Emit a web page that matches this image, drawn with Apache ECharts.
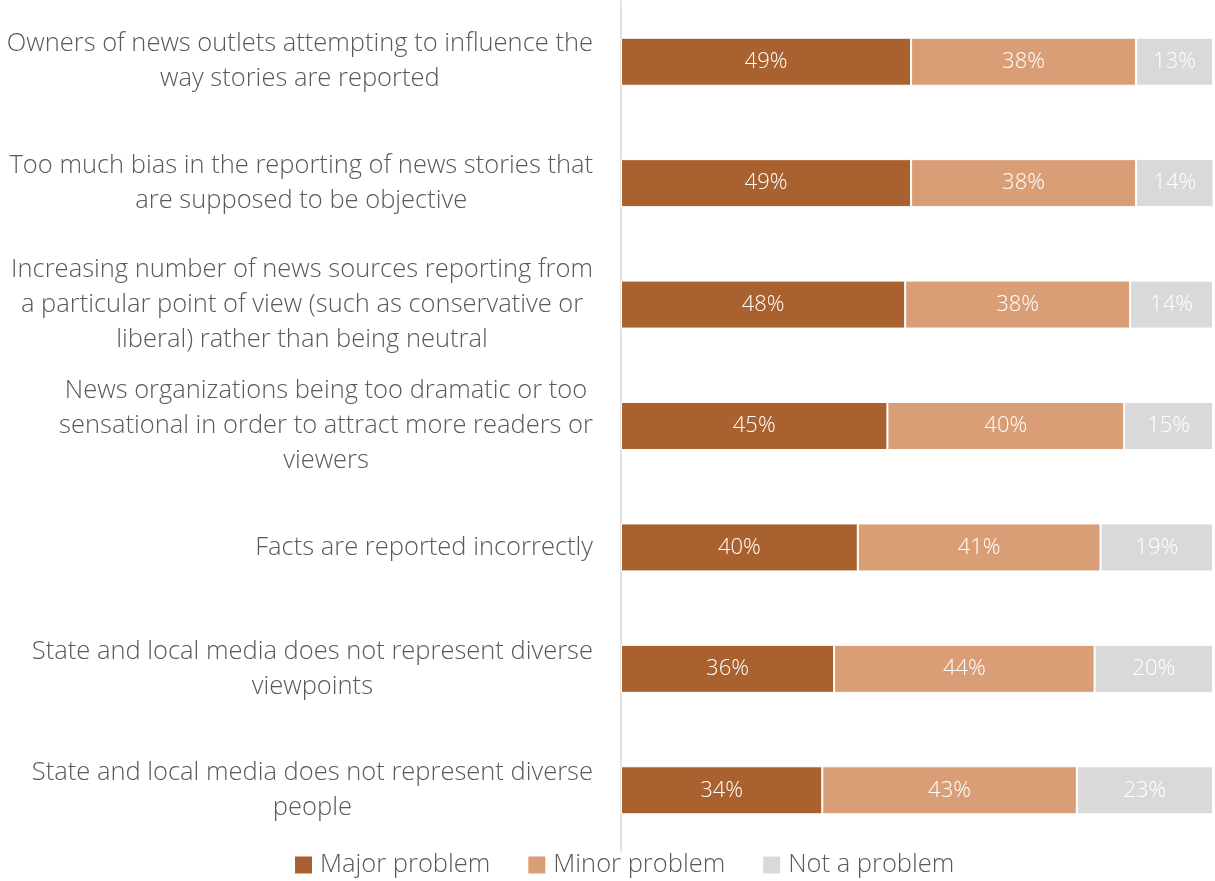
<!DOCTYPE html>
<html>
<head>
<meta charset="utf-8">
<script src="https://cdn.jsdelivr.net/npm/echarts@6/dist/echarts.min.js"></script>
<style>
html,body{margin:0;padding:0;background:#fff;}
#chart{width:1215px;height:881px;}
</style>
</head>
<body>
<div id="chart"></div>
<script>
const categories = [
  "Owners of news outlets attempting to influence the\nway stories are reported",
  "Too much bias in the reporting of news stories that\nare supposed to be objective",
  "Increasing number of news sources reporting from\na particular point of view (such as conservative or\nliberal) rather than being neutral",
  "News organizations being too dramatic or too\nsensational in order to attract more readers or\nviewers",
  "Facts are reported incorrectly",
  "State and local media does not represent diverse\nviewpoints",
  "State and local media does not represent diverse\npeople"
];
const majorProblem = [49, 49, 48, 45, 40, 36, 34];
const minorProblem = [38, 38, 38, 40, 41, 44, 43];
const notAProblem  = [13, 14, 14, 15, 19, 20, 23];
const seriesNames = ["Major problem", "Minor problem", "Not a problem"];
const colors = ["#A9612F", "#D99E76", "#D9D9D9"];

const FONT = "'Open Sans', sans-serif";
const chart = echarts.init(document.getElementById('chart'));

function mk(name, data, color) {
  return {
    name: name,
    type: 'bar',
    stack: 'total',
    data: data,
    barWidth: 48,
    itemStyle: { color: color, borderColor: '#ffffff', borderWidth: 1 },
    label: {
      show: true,
      position: 'inside',
      formatter: '{c}%',
      color: '#ffffff',
      fontFamily: FONT,
      fontWeight: 300,
      fontSize: 22
    }
  };
}

chart.setOption({
  animation: false,
  backgroundColor: '#ffffff',
  color: colors,
  grid: { left: 621, right: 2, top: 1, bottom: 30 },
  xAxis: {
    type: 'value', min: 0, max: 100, show: false
  },
  yAxis: {
    type: 'category',
    inverse: true,
    data: categories,
    axisLine: { show: true, lineStyle: { color: '#D9D9D9', width: 1.5 } },
    axisTick: { show: false },
    splitLine: { show: false },
    axisLabel: {
      margin: 28,
      align: 'right',
      formatter: function (v) {
        return v.split('\n').map(function (l) { return '{c|' + l + '}'; }).join('\n');
      },
      rich: {
        c: {
          align: 'center',
          fontFamily: FONT,
          fontWeight: 300,
          fontSize: 25.5,
          lineHeight: 35,
          color: '#595959'
        }
      }
    }
  },
  legend: {
    bottom: -2,
    left: 290,
    icon: 'rect',
    itemWidth: 17,
    itemHeight: 17,
    itemGap: 38,
    itemStyle: { borderWidth: 0 },
    textStyle: { fontFamily: FONT, fontWeight: 300, fontSize: 25.5, color: '#595959', padding: [0, 0, 0, 3] },
    data: seriesNames
  },
  series: [
    mk(seriesNames[0], majorProblem, colors[0]),
    mk(seriesNames[1], minorProblem, colors[1]),
    mk(seriesNames[2], notAProblem, colors[2])
  ]
});
</script>
</body>
</html>
